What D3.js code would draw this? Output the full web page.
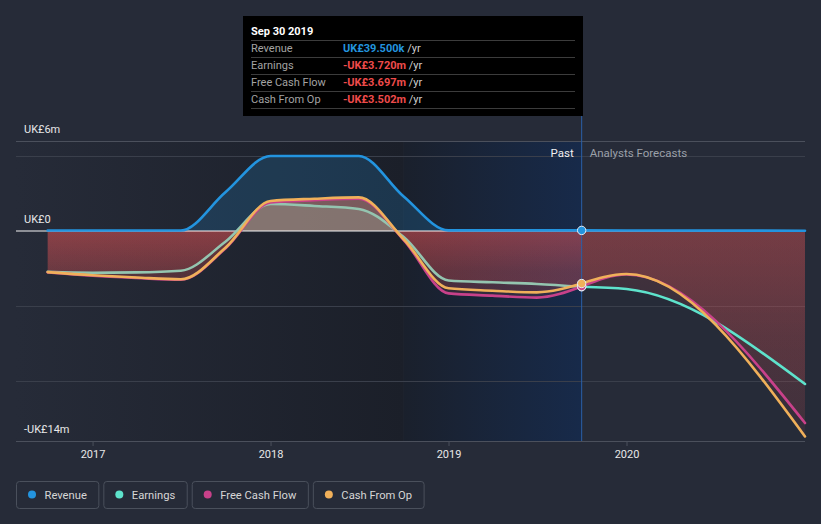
<!DOCTYPE html>
<html><head><meta charset="utf-8">
<script src="https://cdn.jsdelivr.net/npm/d3@7"></script>
<style>
html,body{margin:0;padding:0;background:#262b38;}
svg{display:block;font-family:Roboto,"Noto Sans",sans-serif;}
</style></head><body>
<svg id="chart" width="821" height="524"></svg>
<script>
// ---------- data (UK£ millions) ----------
const pastDates = ["2016-09-30","2016-12-31","2017-03-31","2017-06-30","2017-09-30","2017-12-31","2018-03-31","2018-06-30","2018-09-30","2018-12-31","2019-03-31","2019-06-30","2019-09-30"];
const revenuePast  = [0.03,0.03,0.03,0.03,2.6,5.0,5.0,5.0,2.3,0.04,0.04,0.04,0.0395];
const earningsPast = [-2.72,-2.78,-2.76,-2.65,-0.7,1.8,1.67,1.47,-0.4,-3.3,-3.42,-3.53,-3.72];
const fcfPast      = [-2.76,-2.98,-3.13,-3.25,-1.15,1.9,2.05,2.15,-0.6,-4.16,-4.31,-4.44,-3.697];
const cfoPast      = [-2.74,-2.95,-3.1,-3.22,-1.1,2.0,2.15,2.24,-0.55,-3.82,-3.98,-4.09,-3.502];

const forecastDates = ["2019-09-30","2019-12-31","2020-12-31"];
const revenueFc  = [0.0395,0.03,0.02];
const earningsFc = [-3.72,-3.87,-10.2];
const fcfFc      = [-3.697,-2.9,-12.8];
const cfoFc      = [-3.502,-2.87,-13.7];

const seriesNames = ["Revenue","Earnings","Free Cash Flow","Cash From Op"];
const seriesColors = ["#2394df","#5ee3cc","#c8418a","#f0b05a"];
const xTickLabels = ["2017","2018","2019","2020"];
const yLabelValues = [6,0,-14];
const yLabelTexts = ["UK£6m","UK£0","-UK£14m"];
const gridValues = [5,-5,-10];
const tooltipTitle = "Sep 30 2019";
const highlightStart = "2018-09-30";

// ---------- setup ----------
const parse = d3.timeParse("%Y-%m-%d");
const svg = d3.select("#chart");
const W = 821, H = 524;
const x = d3.scaleTime().domain([parse("2016-07-27"), parse("2020-12-31")]).range([16, 805]);
const y = d3.scaleLinear().domain([-14, 6]).range([441, 141]);
const yTop = y(6), yBottom = y(-14), y0 = y(0);

const pd = pastDates.map(parse), fd = forecastDates.map(parse);
const mk = (dates, vals) => dates.map((d,i)=>({d, v: vals[i]}));
const past = [mk(pd,revenuePast), mk(pd,earningsPast), mk(pd,fcfPast), mk(pd,cfoPast)];
const fc = [mk(fd,revenueFc), mk(fd,earningsFc), mk(fd,fcfFc), mk(fd,cfoFc)];
const lastPast = pd[pd.length-1];

const defs = svg.append("defs");
function hGrad(id, stops){
  const g = defs.append("linearGradient").attr("id", id).attr("x1",0).attr("x2",1).attr("y1",0).attr("y2",0);
  stops.forEach(s => g.append("stop").attr("offset", s[0]).attr("stop-color", s[1]).attr("stop-opacity", s[2] == null ? 1 : s[2]));
}
function vGrad(id, stops){
  const g = defs.append("linearGradient").attr("id", id).attr("gradientUnits","userSpaceOnUse")
    .attr("x1",0).attr("x2",0).attr("y1",y0).attr("y2",yBottom);
  stops.forEach(s => g.append("stop").attr("offset", s[0]).attr("stop-color", s[1]).attr("stop-opacity", s[2]));
}
hGrad("pastBg", [[0,"#262b38"],[1,"#1b1f29"]]);
hGrad("bandBg", [[0,"#1a202c"],[1,"#172a4a"]]);
vGrad("negPast", [[0,"#ff5a5a",0.19],[0.19,"#ff5a5a",0.12],[1,"#ff5a5a",0.05]]);
vGrad("negFc", [[0,"#ff5a5a",0.14],[0.5,"#ff5a5a",0.088],[1,"#ff5a5a",0.065]]);
defs.append("clipPath").attr("id","clipAbove").append("rect").attr("x",0).attr("y",0).attr("width",W).attr("height",y0);
defs.append("clipPath").attr("id","clipBelow").append("rect").attr("x",0).attr("y",y0).attr("width",W).attr("height",H-y0);

// background
svg.append("rect").attr("width",W).attr("height",H).attr("fill","#262b38");
svg.append("rect").attr("x",x.range()[0]).attr("y",yTop).attr("width",x(parse(highlightStart))-x.range()[0]).attr("height",yBottom-yTop).attr("fill","url(#pastBg)");
svg.append("rect").attr("x",x(parse(highlightStart))).attr("y",yTop).attr("width",x(lastPast)-x(parse(highlightStart))).attr("height",yBottom-yTop).attr("fill","url(#bandBg)");

// grid
svg.append("line").attr("x1",16).attr("x2",805).attr("y1",yTop+0.5).attr("y2",yTop+0.5).attr("stroke","#4b505c").attr("stroke-width",1);
svg.selectAll(".grid").data(gridValues).enter().append("line")
  .attr("x1",16).attr("x2",805).attr("y1",d=>Math.round(y(d))+0.5).attr("y2",d=>Math.round(y(d))+0.5)
  .attr("stroke","#3a3f4b").attr("stroke-width",1);

// areas
const area = d3.area().x(d=>x(d.d)).y0(y0).y1(d=>y(d.v)).curve(d3.curveMonotoneX);
const line = d3.line().x(d=>x(d.d)).y(d=>y(d.v)).curve(d3.curveMonotoneX);
const posOpacity = [0.2,0.28,0.28,0.28];
[0,1,2,3].forEach(i=>{
  [past[i], fc[i]].forEach(seg=>{
    svg.append("path").attr("d", area(seg)).attr("fill", seriesColors[i]).attr("fill-opacity", posOpacity[i]).attr("clip-path","url(#clipAbove)");
  });
  if (i>0){
    svg.append("path").attr("d", area(past[i])).attr("fill","url(#negPast)").attr("clip-path","url(#clipBelow)");
    svg.append("path").attr("d", area(fc[i])).attr("fill","url(#negFc)").attr("clip-path","url(#clipBelow)");
  }
});

// zero line
svg.append("line").attr("x1",16).attr("x2",805).attr("y1",y0).attr("y2",y0).attr("stroke","#ffffff").attr("stroke-width",1.2).attr("stroke-opacity",0.95);

// lines
const pastLineColors = ["#2394df","#94c5b0","#c8418a","#f0b05a"];
[0,1,2,3].forEach(i=>{
  svg.append("path").attr("d", line(past[i])).attr("fill","none").attr("stroke",pastLineColors[i]).attr("stroke-width",2.6).attr("stroke-linecap","round");
  svg.append("path").attr("d", line(fc[i])).attr("fill","none").attr("stroke",seriesColors[i]).attr("stroke-width",2.6).attr("stroke-linecap","round");
});

// vertical marker
svg.append("line").attr("x1",x(lastPast)).attr("x2",x(lastPast)).attr("y1",116).attr("y2",yBottom).attr("stroke","#2a5fa8").attr("stroke-width",1);
[0,1,2,3].forEach(i=>{
  const p = past[i][past[i].length-1];
  svg.append("circle").attr("cx",x(p.d)).attr("cy",y(p.v)).attr("r",4.2).attr("fill",seriesColors[i]).attr("stroke","#e8eef5").attr("stroke-width",1);
});

// x axis
const xa = svg.append("g").attr("transform",`translate(0,${yBottom})`);
xa.append("line").attr("x1",16).attr("x2",805).attr("y1",0.5).attr("y2",0.5).attr("stroke","#4b505c");
const tickDates = xTickLabels.map(t=>parse(t+"-01-01"));
xa.selectAll(".tk").data(tickDates).enter().append("line").attr("x1",d=>x(d)).attr("x2",d=>x(d)).attr("y1",0).attr("y2",5).attr("stroke","#4b505c");
xa.selectAll(".tl").data(tickDates).enter().append("text").attr("x",d=>x(d)).attr("y",17).attr("text-anchor","middle")
  .attr("fill","#e8e8e8").attr("font-size",11).text((d,i)=>xTickLabels[i]);

// y labels
svg.selectAll(".yl").data(yLabelValues).enter().append("text").attr("x",24).attr("y",d=>y(d)-8)
  .attr("fill","#e8e8e8").attr("font-size",11).text((d,i)=>yLabelTexts[i]);

// past / forecast labels
svg.append("text").attr("x",x(lastPast)-8).attr("y",157).attr("text-anchor","end").attr("fill","#f0f0f0").attr("font-size",11.5).text("Past");
svg.append("text").attr("x",x(lastPast)+8).attr("y",157).attr("fill","#9ba0a9").attr("font-size",11.5).text("Analysts Forecasts");

// tooltip
const tt = svg.append("g");
tt.append("rect").attr("x",243).attr("y",16).attr("width",340).attr("height",100).attr("fill","#000");
tt.append("text").attr("x",251).attr("y",35).attr("fill","#fff").attr("font-size",11).attr("font-weight","bold").text(tooltipTitle);
const fmt = v => {
  const s = v<0 ? "-" : "";
  const a = Math.abs(v);
  return a < 1 ? `${s}UK£${(a*1000).toFixed(3)}k` : `${s}UK£${a.toFixed(3)}m`;
};
const lastVals = past.map(s=>s[s.length-1].v);
[40,57,74,91,108].forEach(yy=>tt.append("line").attr("x1",251).attr("x2",575).attr("y1",yy+0.5).attr("y2",yy+0.5).attr("stroke","#3c3c3c"));
seriesNames.forEach((n,i)=>{
  const by = 52 + i*17;
  tt.append("text").attr("x",251).attr("y",by).attr("fill","#a3a3a3").attr("font-size",11).text(n);
  const t = tt.append("text").attr("x",343).attr("y",by).attr("font-size",11);
  t.append("tspan").attr("fill", lastVals[i] < 0 ? "#ef4b4b" : "#2394df").attr("font-weight","bold").text(fmt(lastVals[i]));
  t.append("tspan").attr("fill","#cfcfcf").text(" /yr");
});

// legend
let lx = 16;
seriesNames.forEach((n,i)=>{
  const g = svg.append("g");
  const txt = g.append("text").attr("x",lx+28.5).attr("y",498.5).attr("fill","#d6d6d6").attr("font-size",11.2).text(n);
  const tw = txt.node().getComputedTextLength();
  const bw = tw + 40;
  g.insert("rect","text").attr("x",lx+0.5).attr("y",481.5).attr("width",bw).attr("height",27).attr("rx",3)
    .attr("fill","none").attr("stroke","#4a505c");
  g.append("circle").attr("cx",lx+16).attr("cy",494.5).attr("r",4).attr("fill",seriesColors[i]);
  lx += bw + 5;
});
</script>
</body></html>
